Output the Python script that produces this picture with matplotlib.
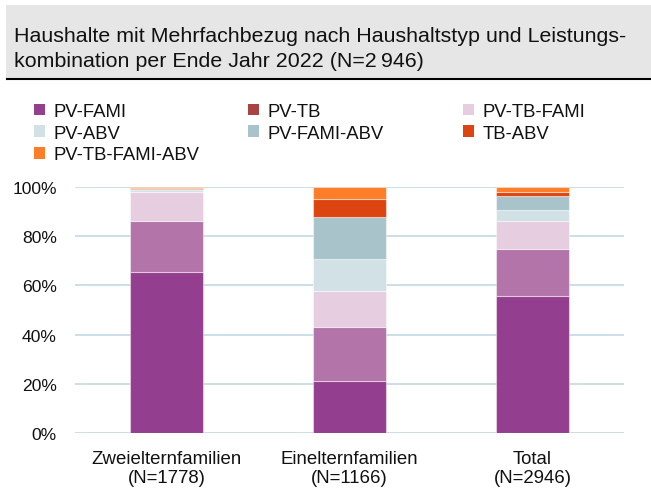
import matplotlib
matplotlib.use("Agg")
import matplotlib.pyplot as plt
from matplotlib.patches import Patch, Rectangle
from matplotlib.lines import Line2D
import numpy as np

plt.rcParams['font.family'] = ['Liberation Sans', 'DejaVu Sans']

categories = ["Zweielternfamilien\n(N=1778)", "Einelternfamilien\n(N=1166)", "Total\n(N=2946)"]
series = ["PV-FAMI", "PV-TB", "PV-TB-FAMI", "PV-ABV", "PV-FAMI-ABV", "TB-ABV", "PV-TB-FAMI-ABV"]
values = {
    "PV-FAMI":        [65.6, 21.1, 55.8],
    "PV-TB":          [20.6, 21.9, 19.0],
    "PV-TB-FAMI":     [11.9, 14.8, 11.5],
    "PV-ABV":         [0.6, 12.9, 4.4],
    "PV-FAMI-ABV":    [0.6, 17.2, 5.5],
    "TB-ABV":         [0.2, 7.1, 1.9],
    "PV-TB-FAMI-ABV": [0.5, 5.0, 1.9],
}
bar_colors = ["#933E8E", "#B374A9", "#E6CDE0", "#D2E1E6", "#A8C4CA", "#DC4510", "#FD7E28"]
legend_colors = ["#933E8E", "#A94442", "#E6CDE0", "#D2E1E6", "#A8C4CA", "#DC4510", "#FD7E28"]
yticks = [0, 20, 40, 60, 80, 100]
ytick_labels = ["0%", "20%", "40%", "60%", "80%", "100%"]

W, H = 651, 489
fig = plt.figure(figsize=(W / 100, H / 100), dpi=100)

# title background box with dark bottom rule
fig.patches.append(Rectangle((6 / W, 1 - 80 / H), 1 - 6 / W, 74 / H, transform=fig.transFigure,
                             facecolor="#E6E6E6", edgecolor="none", zorder=0))
fig.lines.append(Line2D([7 / W, 1], [1 - 80 / H, 1 - 80 / H], transform=fig.transFigure,
                        color="#000000", linewidth=1.5))
fig.text(14 / W, 1 - 42 / H, "Haushalte mit Mehrfachbezug nach Haushaltstyp und Leistungs-",
         fontsize=15.4, va="baseline", ha="left", color="#111111")
fig.text(14 / W, 1 - 67 / H, "kombination per Ende Jahr 2022 (N=2\u2009946)",
         fontsize=15.4, va="baseline", ha="left", color="#111111")

ax = fig.add_axes([75 / W, 1 - 434 / H, (624 - 75) / W, (434 - 188) / H])
x = np.arange(len(categories))
bottom = np.zeros(len(categories))
for s, c in zip(series, bar_colors):
    v = np.array(values[s])
    ax.bar(x, v, bottom=bottom, width=0.40, color=c, edgecolor=(1, 1, 1, 0.45),
           linewidth=0.8, zorder=3)
    bottom += v

ax.set_xlim(-0.5, len(categories) - 0.5)
ax.set_ylim(0, 100)
ax.set_yticks(yticks)
ax.set_yticklabels(ytick_labels, fontsize=12.6, color="#111111")
ax.set_xticks(x)
ax.set_xticklabels(categories, fontsize=13.4, color="#111111", linespacing=1.1)
ax.tick_params(axis="y", length=0, pad=13)
ax.tick_params(axis="x", length=0, pad=12.5)
ax.grid(axis="y", color="#C5D8E2", linewidth=1.2, zorder=0)
for sp in ax.spines.values():
    sp.set_visible(False)

handles = [Patch(facecolor=c, edgecolor="none") for c in legend_colors]
col_x = [34, 248, 463]
for j in range(3):
    hs = handles[j::3]
    ls = series[j::3]
    leg = fig.legend(hs, ls, loc="upper left", bbox_to_anchor=(col_x[j] / W, 1 - 104 / H),
                     frameon=False, fontsize=13.3, handlelength=0.6, handleheight=0.6,
                     handletextpad=0.45, labelspacing=0.25, borderaxespad=0, borderpad=0)
    for t in leg.get_texts():
        t.set_color("#111111")

fig.savefig("out.png", dpi=100)
